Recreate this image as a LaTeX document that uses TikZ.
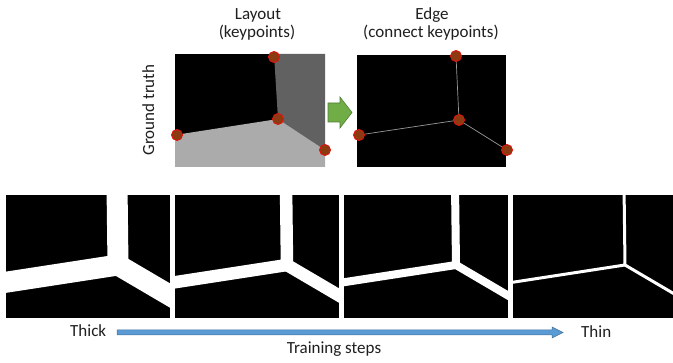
\documentclass[tikz,border=0pt]{standalone}
\usepackage{fontspec}
\setmainfont{Carlito}
\begin{document}
\begin{tikzpicture}[x=1pt,y=-1pt,
  lbl/.style={font=\fontsize{17}{20}\selectfont, inner sep=0pt, text=black!88},
  kp/.style={circle, fill=kpfill, draw=kpred, line width=0.9pt, minimum size=11pt, inner sep=0pt},
  edgeln/.style={draw=black!40, line width=0.7pt},
  band/.style={draw=white, line join=miter, line cap=butt}]
\definecolor{kpfill}{HTML}{8B3A12}
\definecolor{kpred}{HTML}{E3120B}
\definecolor{darkwall}{HTML}{616161}
\definecolor{lightfloor}{HTML}{ABABAB}
\definecolor{garrow}{HTML}{70AD47}
\definecolor{garrowb}{HTML}{507E32}
\definecolor{barrow}{HTML}{5B9BD5}
\definecolor{barrowb}{HTML}{41719C}
\useasboundingbox (0,0) rectangle (673,363);
\fill[white] (0,0) rectangle (673,363);

% ---- titles
\node[lbl, anchor=base] (tlayout) at (258,20) {Layout};
\node[lbl, anchor=base] (tkey) at (257,38) {(keypoints)};
\node[lbl, anchor=base] (tedge) at (432,20) {Edge};
\node[lbl, anchor=base] (tconn) at (431,38) {(connect keypoints)};
\node[lbl, anchor=base, rotate=90] (tgt) at (154,110) {Ground truth};

% ---- layout panel
\fill[black] (175,54) rectangle (325,167);
\fill[darkwall] (274,54) -- (325,54) -- (325,150) -- (278,119) -- cycle;
\fill[lightfloor] (175,135) -- (278,119) -- (325,150) -- (325,167) -- (175,167) -- cycle;
\node[kp] (a1) at (274,57) {};
\node[kp] (a2) at (278,119) {};
\node[kp] (a3) at (177,135) {};
\node[kp] (a4) at (325,150) {};

% ---- green arrow
\filldraw[fill=garrow, draw=garrowb, line width=0.6pt]
  (328,103) -- (340,103) -- (340,97) -- (352,112.5) -- (340,128) -- (340,122) -- (328,122) -- cycle;

% ---- edge panel
\fill[black] (357,55) rectangle (506,167);
\coordinate (b1) at (456,56);
\coordinate (b2) at (459,120);
\coordinate (b3) at (359,135);
\coordinate (b4) at (507,150);
\draw[edgeln] (b1) -- (b2) -- (b3);
\draw[edgeln] (b2) -- (b4);
\node[kp] (k1) at (b1) {};
\node[kp] (k2) at (b2) {};
\node[kp] (k3) at (b3) {};
\node[kp] (k4) at (b4) {};

% ---- bottom panels
\foreach \xo/\w in {6/21, 175/12.5, 344/8, 513/3}{
  \begin{scope}
    \clip (\xo,195) rectangle ++(164,123);
    \fill[black] (\xo,195) rectangle ++(164,123);
    \draw[band, line width=\w pt] (\xo+111,185) -- (\xo+112,265) -- (\xo-5,283);
    \draw[band, line width=\w pt] (\xo+112,265) -- (\xo+175,302);
  \end{scope}
}

% ---- bottom arrow and labels
\node[lbl, anchor=base west] (thick) at (70,337) {Thick};
\node[lbl, anchor=base west] (thin) at (581,338) {Thin};
\node[lbl, anchor=base] (steps) at (334,354) {Training steps};
\filldraw[fill=barrow, draw=barrowb, line width=0.5pt]
  (117,330) -- (552,330) -- (552,327) -- (563,332.5) -- (552,338) -- (552,335) -- (117,335) -- cycle;
\end{tikzpicture}
\end{document}
